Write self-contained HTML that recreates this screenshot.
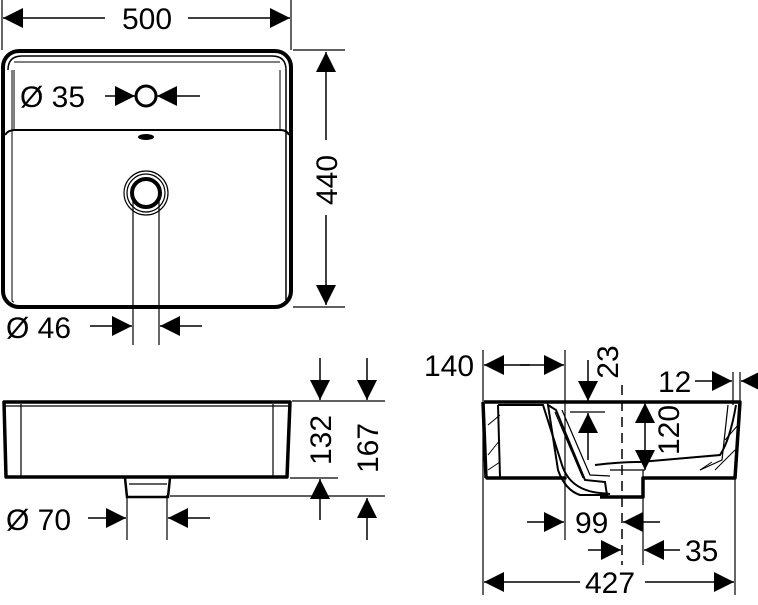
<!DOCTYPE html>
<html><head><meta charset="utf-8"><style>
html,body{margin:0;padding:0;background:#fff;}
svg{display:block;}
text{font-family:"Liberation Sans",sans-serif;font-size:30px;fill:#000;}
</style></head><body>
<svg width="758" height="605" viewBox="0 0 758 605" xmlns="http://www.w3.org/2000/svg">
<defs>
<marker id="a" viewBox="0 0 20 20" refX="20" refY="10" markerWidth="20" markerHeight="20" markerUnits="userSpaceOnUse" orient="auto"><path d="M0,0 L20,10 L0,20Z" fill="#000"/></marker>
</defs>
<g stroke="#000" fill="none">
<!-- TOP VIEW -->
<rect x="3" y="51" width="288" height="256" rx="16" stroke-width="4"/>
<path d="M8,70 Q8,56 22,56 L272,56 Q286,56 286,70 L286,300" stroke-width="1.5"/>
<path d="M14,70 L14,130 M280,70 L280,130 M14,62 L280,62" stroke-width="1"/>
<path d="M5,135 Q8,130 15,130 L280,130 Q287,130 289,135" stroke-width="2"/>
<path d="M12,70 L12,300 Q12,302 14,302" stroke-width="1"/>
<ellipse cx="146" cy="137" rx="8" ry="3" fill="#000" stroke="none"/>
<circle cx="146" cy="96" r="10" stroke-width="3"/>
<circle cx="146" cy="193" r="22" stroke-width="1.2"/>
<circle cx="146" cy="193" r="19" stroke-width="1.2"/>
<circle cx="146" cy="193" r="14" stroke-width="4"/>
<!-- 500 -->
<path d="M2,0 V50 M291,0 V50" stroke-width="1.2"/>
<g stroke-width="1.5" marker-end="url(#a)">
<path d="M105,18 H3"/><path d="M188,18 H290"/>
<path d="M326,140 V52"/><path d="M326,215 V305"/>
<path d="M105,96 H135"/><path d="M200,96 H157"/>
<path d="M90,326 H132"/><path d="M202,326 H160"/>
<path d="M320,358 V400"/><path d="M367,358 V400"/>
<path d="M320,520 V479"/><path d="M367,540 V498"/>
<path d="M88,518 H126"/><path d="M210,518 H168"/>
<path d="M530,365 H484"/><path d="M520,365 H564"/>
<path d="M588,360 V401"/><path d="M588,460 V413"/>
<path d="M645,435 V403"/><path d="M645,435 V470"/>
<path d="M695,381 H732"/><path d="M758,381 H741"/>
<path d="M527,522 H564"/><path d="M660,522 H623"/>
<path d="M588,550 H621"/><path d="M680,550 H644"/>
<path d="M580,582 H484"/><path d="M645,582 H734"/>
</g>
<path d="M293,50 H345 M293,307 H345" stroke-width="1.2"/>
<path d="M133,197 V345 M159,197 V345" stroke-width="1.2"/>

<!-- FRONT VIEW -->
<path d="M4,402 L290,402 L287,477 L6,477 Z" stroke-width="3.5" stroke-linejoin="round"/>
<path d="M5,406 H290 M21,404 V477 M273,404 V477" stroke-width="1.2"/>
<path d="M125,478 L127,497 L168,497 L170,478" stroke-width="2.5"/>
<path d="M129,484 H167" stroke-width="1.2"/>
<path d="M292,401 H385 M290,478 H338 M170,496 H385" stroke-width="1.2"/>
<path d="M127,495 V540 M167,495 V540" stroke-width="1.2"/>

<!-- SIDE VIEW -->
<path d="M484,402 L740,402 L735,478 L643,478 L643,497 L600,497 M565,478 L487,478 Z" stroke-width="3.5" stroke-linejoin="round"/>
<path d="M486,478 L483,402" stroke-width="3.5"/>
<path d="M498,405 L500,477 M498,405 L543,405 L562,465 Q570,490 600,493 L610,494" stroke-width="2"/>
<path d="M548,405 L556,410 L585,480 L605,482 L607,495 L580,495 Q565,490 558,470 Z" stroke-width="2"/>
<path d="M555,412 L583,478 M562,410 L590,475 L610,476" stroke-width="1.2"/>
<path d="M595,465 Q620,462 640,462 L720,455 Q730,440 736,405" stroke-width="2"/>
<path d="M610,470 H645 M643,470 V478 M728,405 L722,460 L700,470" stroke-width="1.2"/>
<path d="M488,425 L500,415 M488,455 L500,440 M488,470 L500,462 M715,470 L735,450 M725,440 L738,425 M700,470 L712,462" stroke-width="1"/>
<path d="M622,385 V565" stroke-width="1.5" stroke-dasharray="10,6"/>
<path d="M483,350 V595 M565,350 V540" stroke-width="1.2"/>
<path d="M570,412 H605" stroke-width="1.2"/>
<path d="M733,372 V405 M740,372 V402 M735,478 V595" stroke-width="1.2"/>
<path d="M643,497 V565" stroke-width="1.2"/>
</g>
<text x="147" y="29" text-anchor="middle">500</text>
<text x="20" y="107">Ø 35</text>
<text x="6" y="338">Ø 46</text>
<text x="6" y="530">Ø 70</text>
<text transform="translate(337,180) rotate(-90)" text-anchor="middle">440</text>
<text transform="translate(331,440) rotate(-90)" text-anchor="middle">132</text>
<text transform="translate(378,448) rotate(-90)" text-anchor="middle">167</text>
<text x="424" y="376">140</text>
<text transform="translate(618,362) rotate(-90)" text-anchor="middle">23</text>
<text transform="translate(679,430) rotate(-90)" text-anchor="middle">120</text>
<text x="658" y="392">12</text>
<text x="575" y="533">99</text>
<text x="685" y="561">35</text>
<text x="610" y="593" text-anchor="middle">427</text>
</svg>
</body></html>
